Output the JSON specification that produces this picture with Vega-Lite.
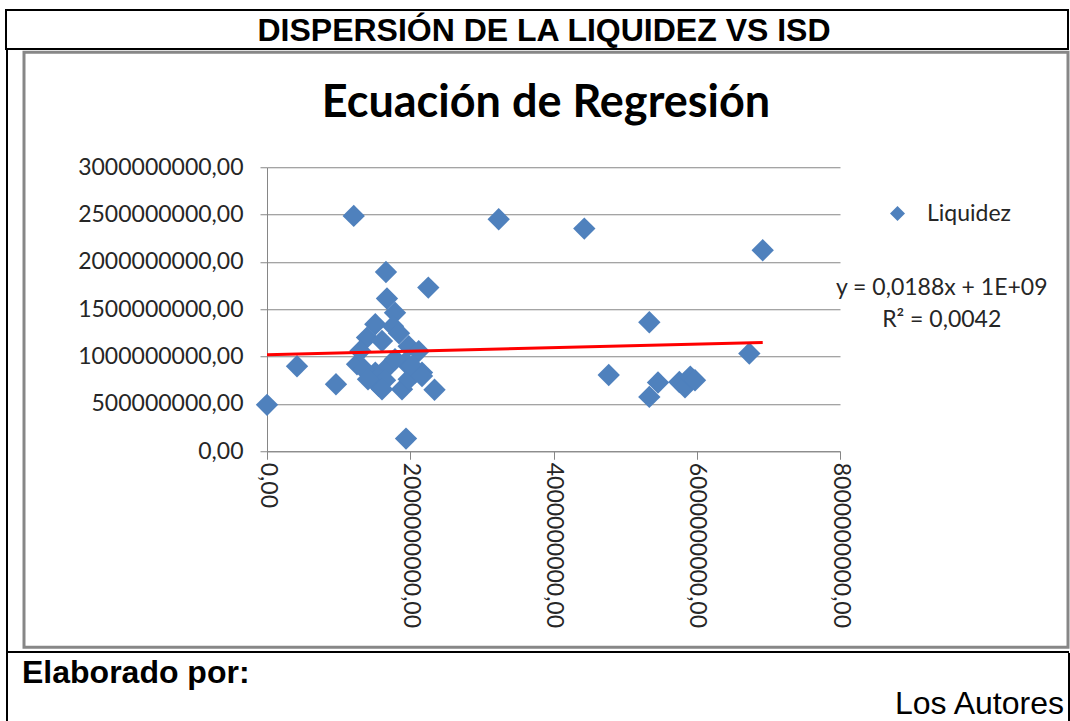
{
  "$schema": "https://vega.github.io/schema/vega-lite/v6.json",
  "padding": {"left": 5, "top": 9, "right": 0, "bottom": 0},
  "background": "white",
  "spacing": 0,
  "config": {"view": {"stroke": null}, "concat": {"spacing": 0}},
  "datasets": {
    "puntos": [
      {"isd": 0, "liquidez": 490000000, "serie": "Liquidez"},
      {"isd": 419000000, "liquidez": 898000000, "serie": "Liquidez"},
      {"isd": 963000000, "liquidez": 708000000, "serie": "Liquidez"},
      {"isd": 1211000000, "liquidez": 2486000000, "serie": "Liquidez"},
      {"isd": 1257000000, "liquidez": 919000000, "serie": "Liquidez"},
      {"isd": 1661000000, "liquidez": 1894000000, "serie": "Liquidez"},
      {"isd": 1675000000, "liquidez": 1613000000, "serie": "Liquidez"},
      {"isd": 1787000000, "liquidez": 1463000000, "serie": "Liquidez"},
      {"isd": 2252000000, "liquidez": 1729000000, "serie": "Liquidez"},
      {"isd": 1941000000, "liquidez": 134000000, "serie": "Liquidez"},
      {"isd": 2339000000, "liquidez": 650000000, "serie": "Liquidez"},
      {"isd": 3235000000, "liquidez": 2451000000, "serie": "Liquidez"},
      {"isd": 4430000000, "liquidez": 2352000000, "serie": "Liquidez"},
      {"isd": 4771000000, "liquidez": 806000000, "serie": "Liquidez"},
      {"isd": 5338000000, "liquidez": 1363000000, "serie": "Liquidez"},
      {"isd": 5338000000, "liquidez": 574000000, "serie": "Liquidez"},
      {"isd": 5459000000, "liquidez": 726000000, "serie": "Liquidez"},
      {"isd": 5757000000, "liquidez": 732000000, "serie": "Liquidez"},
      {"isd": 5836000000, "liquidez": 676000000, "serie": "Liquidez"},
      {"isd": 5910000000, "liquidez": 789000000, "serie": "Liquidez"},
      {"isd": 5976000000, "liquidez": 750000000, "serie": "Liquidez"},
      {"isd": 6734000000, "liquidez": 1032000000, "serie": "Liquidez"},
      {"isd": 6921000000, "liquidez": 2123000000, "serie": "Liquidez"},
      {"isd": 1512000000, "liquidez": 1341000000, "serie": "Liquidez"},
      {"isd": 1759000000, "liquidez": 1320000000, "serie": "Liquidez"},
      {"isd": 1843000000, "liquidez": 1246000000, "serie": "Liquidez"},
      {"isd": 1396000000, "liquidez": 1201000000, "serie": "Liquidez"},
      {"isd": 1606000000, "liquidez": 1165000000, "serie": "Liquidez"},
      {"isd": 1978000000, "liquidez": 1109000000, "serie": "Liquidez"},
      {"isd": 2118000000, "liquidez": 1056000000, "serie": "Liquidez"},
      {"isd": 1303000000, "liquidez": 1059000000, "serie": "Liquidez"},
      {"isd": 1512000000, "liquidez": 831000000, "serie": "Liquidez"},
      {"isd": 1699000000, "liquidez": 901000000, "serie": "Liquidez"},
      {"isd": 1931000000, "liquidez": 937000000, "serie": "Liquidez"},
      {"isd": 2071000000, "liquidez": 831000000, "serie": "Liquidez"},
      {"isd": 2164000000, "liquidez": 831000000, "serie": "Liquidez"},
      {"isd": 1560000000, "liquidez": 690000000, "serie": "Liquidez"},
      {"isd": 1885000000, "liquidez": 655000000, "serie": "Liquidez"},
      {"isd": 1978000000, "liquidez": 761000000, "serie": "Liquidez"},
      {"isd": 1354000000, "liquidez": 866000000, "serie": "Liquidez"},
      {"isd": 1648000000, "liquidez": 750000000, "serie": "Liquidez"},
      {"isd": 1787000000, "liquidez": 972000000, "serie": "Liquidez"},
      {"isd": 1410000000, "liquidez": 761000000, "serie": "Liquidez"},
      {"isd": 2025000000, "liquidez": 901000000, "serie": "Liquidez"},
      {"isd": 2164000000, "liquidez": 795000000, "serie": "Liquidez"},
      {"isd": 1606000000, "liquidez": 655000000, "serie": "Liquidez"}
    ],
    "tendencia": [
      {"isd": 0, "liquidez": 1020000000},
      {"isd": 6921000000, "liquidez": 1150000000}
    ]
  },
  "vconcat": [
    {
      "width": 1062,
      "height": 39,
      "view": {"stroke": "black", "strokeWidth": 2},
      "data": {"values": [{"t": "DISPERSIÓN DE LA LIQUIDEZ VS ISD"}]},
      "mark": {"type": "text", "font": "Liberation Sans", "fontWeight": "bold", "fontSize": 32, "dx": 7, "dy": 1.5, "baseline": "middle", "align": "center", "color": "black"},
      "encoding": {"text": {"field": "t", "type": "nominal"}}
    },
    {
      "spacing": 2,
      "center": true,
      "hconcat": [
        {"width": 2, "height": 601, "view": {"fill": "black", "stroke": null}, "data": {"values": []}, "mark": "text", "encoding": {}},
        {"width": 10, "height": 601, "view": {"stroke": null}, "data": {"values": []}, "mark": "text", "encoding": {}},
        {
          "width": 1044,
          "height": 595,
          "view": {"stroke": "#878787", "strokeWidth": 3},
          "title": {"text": "Ecuación de Regresión", "font": "Lato", "fontSize": 45, "fontWeight": "bold", "color": "black", "anchor": "middle", "frame": "group", "baseline": "alphabetic", "offset": -110},
          "layer": [
            {
              "data": {"name": "puntos"},
              "mark": {"type": "point", "shape": "diamond", "filled": true, "size": 500, "opacity": 1},
              "encoding": {
                "x": {
                  "field": "isd", "type": "quantitative",
                  "scale": {"domain": [0, 8000000000], "range": [243, 816], "nice": false, "zero": false},
                  "axis": {"values": [0, 2000000000, 4000000000, 6000000000, 8000000000], "offset": -196, "grid": false, "domainColor": "#868686", "tickColor": "#868686", "tickSize": 8, "labelAngle": 90, "labelAlign": "left", "labelBaseline": "middle", "labelPadding": 3, "labelFont": "Lato", "labelFontSize": 23, "labelColor": "#262626", "labelOverlap": false, "labelFlush": false, "labelExpr": "replace(format(datum.value, '.2f'), '.', ',')", "title": null}
                },
                "y": {
                  "field": "liquidez", "type": "quantitative",
                  "scale": {"domain": [0, 3000000000], "range": [399, 115], "nice": false, "zero": false},
                  "axis": {"values": [0, 500000000, 1000000000, 1500000000, 2000000000, 2500000000, 3000000000], "offset": -243, "grid": true, "gridColor": "#868686", "gridWidth": 1, "domainColor": "#868686", "tickColor": "#868686", "tickSize": 7, "labelPadding": 17, "labelFont": "Lato", "labelFontSize": 23, "labelColor": "#262626", "labelOverlap": false, "labelFlush": false, "labelExpr": "replace(format(datum.value, '.2f'), '.', ',')", "title": null}
                },
                "color": {
                  "field": "serie", "type": "nominal",
                  "scale": {"range": ["#4F81BD"]},
                  "legend": {"orient": "none", "legendX": 880, "legendY": 192, "title": null, "symbolType": "diamond", "symbolSize": 225, "symbolStrokeWidth": 0, "labelFont": "Lato", "labelFontSize": 23, "labelColor": "#262626", "labelOffset": 18, "padding": 0}
                }
              }
            },
            {
              "data": {"name": "tendencia"},
              "mark": {"type": "line", "color": "#FF0000", "strokeWidth": 3},
              "encoding": {
                "x": {"field": "isd", "type": "quantitative"},
                "y": {"field": "liquidez", "type": "quantitative"}
              }
            },
            {
              "data": {"values": [{"eq": ["y = 0,0188x + 1E+09", "R² = 0,0042"]}]},
              "mark": {"type": "text", "font": "Lato", "fontSize": 23, "lineHeight": 32, "align": "center", "baseline": "middle", "color": "#262626"},
              "encoding": {
                "x": {"datum": 9420000000},
                "y": {"datum": 1722000000},
                "text": {"field": "eq", "type": "nominal"}
              }
            }
          ]
        },
        {"width": 2, "height": 601, "view": {"fill": "black", "stroke": null}, "data": {"values": []}, "mark": "text", "encoding": {}}
      ]
    },
    {"width": 1063, "height": 2, "view": {"fill": "black", "stroke": null}, "data": {"values": []}, "mark": "text", "encoding": {}},
    {
      "spacing": 2,
      "hconcat": [
        {"width": 2, "height": 68, "view": {"fill": "black", "stroke": null}, "data": {"values": []}, "mark": "text", "encoding": {}},
        {
          "width": 1056,
          "height": 68,
          "view": {"stroke": null},
          "layer": [
            {
              "data": {"values": [{"t": "Elaborado por:"}]},
              "mark": {"type": "text", "font": "Liberation Sans", "fontWeight": "bold", "fontSize": 32, "align": "left", "baseline": "middle", "dx": -516, "dy": -14, "color": "black"},
              "encoding": {"text": {"field": "t", "type": "nominal"}}
            },
            {
              "data": {"values": [{"t": "Los Autores"}]},
              "mark": {"type": "text", "font": "Liberation Sans", "fontSize": 32, "align": "right", "baseline": "middle", "dx": 526, "dy": 17, "color": "black"},
              "encoding": {"text": {"field": "t", "type": "nominal"}}
            }
          ]
        },
        {"width": 2, "height": 68, "view": {"fill": "black", "stroke": null}, "data": {"values": []}, "mark": "text", "encoding": {}}
      ]
    }
  ]
}
